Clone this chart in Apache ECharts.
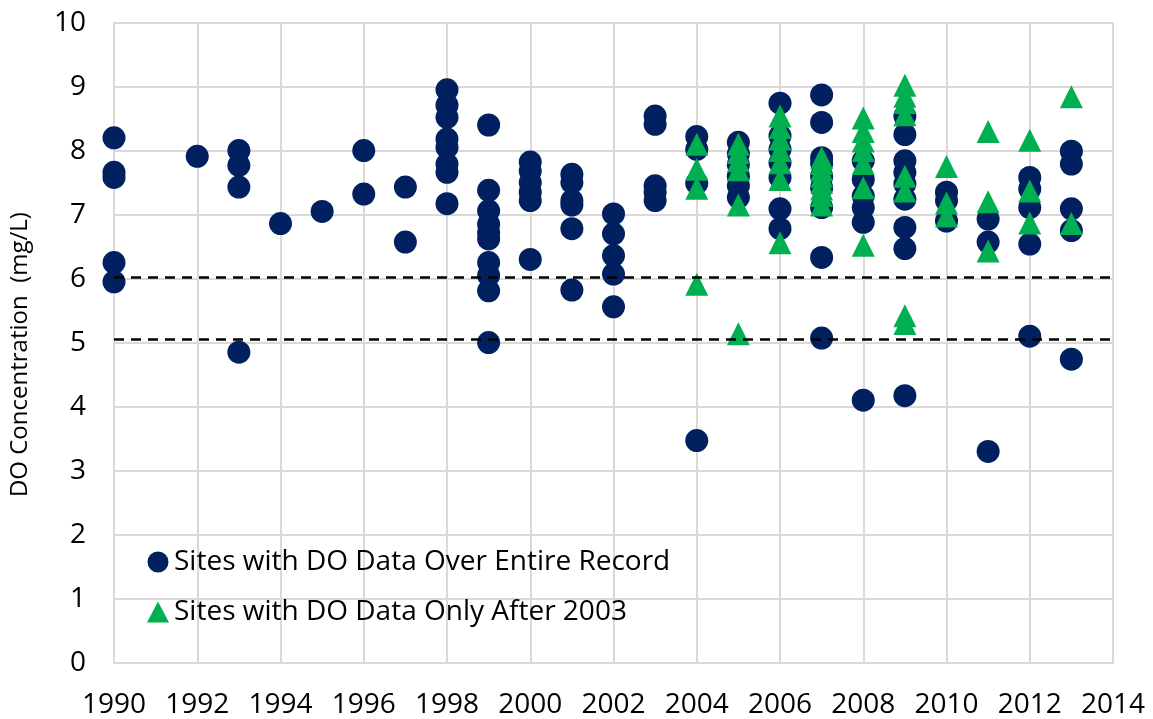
<!DOCTYPE html>
<html>
<head>
<meta charset="utf-8">
<script src="https://cdn.jsdelivr.net/npm/echarts@6/dist/echarts.min.js"></script>
<style>
  html, body { margin: 0; padding: 0; background: #fff; }
  #chart_box { width: 1153px; height: 719px; }
</style>
</head>
<body>
<div id="chart_box"></div>
<script>
// sites with DO data over the entire record: [year, mg/L]
var entireRecord = [
  [1990, 8.20], [1990, 7.66], [1990, 7.58], [1990, 6.25], [1990, 5.95],
  [1992, 7.91],
  [1993, 8.00], [1993, 7.77], [1993, 7.43], [1993, 4.85],
  [1994, 6.86],
  [1995, 7.05],
  [1996, 8.00], [1996, 7.32],
  [1997, 7.43], [1997, 6.57],
  [1998, 8.95], [1998, 8.71], [1998, 8.52], [1998, 8.18], [1998, 8.05], [1998, 7.79], [1998, 7.66], [1998, 7.17],
  [1999, 8.40], [1999, 7.38], [1999, 7.06], [1999, 6.85], [1999, 6.72], [1999, 6.62], [1999, 6.25], [1999, 6.05], [1999, 5.81], [1999, 5.00],
  [2000, 7.82], [2000, 7.68], [2000, 7.50], [2000, 7.35], [2000, 7.22], [2000, 6.30],
  [2001, 7.63], [2001, 7.50], [2001, 7.22], [2001, 7.15], [2001, 6.78], [2001, 5.82],
  [2002, 7.01], [2002, 6.70], [2002, 6.36], [2002, 6.07], [2002, 5.56],
  [2003, 8.54], [2003, 8.41], [2003, 7.45], [2003, 7.35], [2003, 7.22],
  [2004, 8.22], [2004, 8.02], [2004, 7.49], [2004, 3.47],
  [2005, 8.13], [2005, 7.95], [2005, 7.78], [2005, 7.60], [2005, 7.45], [2005, 7.27],
  [2006, 8.74], [2006, 8.23], [2006, 8.02], [2006, 7.81], [2006, 7.58], [2006, 7.09], [2006, 6.78],
  [2007, 8.87], [2007, 8.44], [2007, 7.89], [2007, 7.80], [2007, 7.60], [2007, 7.42], [2007, 7.11], [2007, 6.33], [2007, 5.07],
  [2008, 7.84], [2008, 7.55], [2008, 7.29], [2008, 7.11], [2008, 6.88], [2008, 4.10],
  [2009, 8.54], [2009, 8.25], [2009, 7.84], [2009, 7.66], [2009, 7.48], [2009, 7.24], [2009, 6.80], [2009, 6.47], [2009, 4.17],
  [2010, 7.35], [2010, 7.22], [2010, 6.90],
  [2011, 6.93], [2011, 6.57], [2011, 3.30],
  [2012, 7.58], [2012, 7.40], [2012, 7.11], [2012, 6.54], [2012, 5.10],
  [2013, 7.99], [2013, 7.79], [2013, 7.09], [2013, 6.75], [2013, 4.74]
];

// sites with DO data only after 2003
var after2003 = [
  [2004, 8.10], [2004, 7.71], [2004, 7.41], [2004, 5.91],
  [2005, 8.10], [2005, 7.97], [2005, 7.84], [2005, 7.70], [2005, 7.15], [2005, 5.14],
  [2006, 8.54], [2006, 8.36], [2006, 8.18], [2006, 8.00], [2006, 7.81], [2006, 7.55], [2006, 6.56],
  [2007, 7.89], [2007, 7.80], [2007, 7.70], [2007, 7.60], [2007, 7.50], [2007, 7.40], [2007, 7.30], [2007, 7.15],
  [2008, 8.51], [2008, 8.30], [2008, 8.15], [2008, 8.00], [2008, 7.80], [2008, 7.42], [2008, 6.52],
  [2009, 9.02], [2009, 8.85], [2009, 8.75], [2009, 8.56], [2009, 7.60], [2009, 7.37], [2009, 5.42], [2009, 5.30],
  [2010, 7.75], [2010, 7.18], [2010, 6.98],
  [2011, 8.30], [2011, 7.20], [2011, 6.43],
  [2012, 8.16], [2012, 7.37], [2012, 6.87],
  [2013, 8.84], [2013, 6.86]
];

// reference levels (dashed)
var refLevels = [6.02, 5.05];

var seriesNames = ['Sites with DO Data Over Entire Record', 'Sites with DO Data Only After 2003'];

var myChart = echarts.init(document.getElementById('chart_box'));
var fontName = '"Open Sans", sans-serif';

var option = {
  animation: false,
  backgroundColor: '#fff',
  grid: { left: 111, right: 40, top: 22.6, bottom: 56.4 },
  legend: {
    orient: 'vertical',
    left: 142,
    top: 543,
    itemWidth: 22,
    itemHeight: 21,
    itemGap: 22,
    textStyle: { fontFamily: fontName, fontSize: 28, color: '#000' },
    data: seriesNames
  },
  xAxis: {
    type: 'value',
    min: 1990,
    max: 2014,
    interval: 2,
    axisLine: { show: true, lineStyle: { color: '#d9d9d9', width: 2 } },
    axisTick: { show: false },
    splitLine: { show: true, lineStyle: { color: '#d9d9d9', width: 2 } },
    axisLabel: {
      margin: 28,
      fontFamily: fontName, fontSize: 28, color: '#000',
      formatter: function (v) { return String(v); }
    }
  },
  yAxis: {
    type: 'value',
    min: 0,
    max: 10,
    interval: 1,
    name: 'DO Concentration  (mg/L)',
    nameLocation: 'middle',
    nameGap: 82,
    nameTextStyle: { fontFamily: fontName, fontSize: 24, color: '#000', padding: [0, 24, 0, 0] },
    axisLine: { show: true, lineStyle: { color: '#d9d9d9', width: 2 } },
    axisTick: { show: false },
    splitLine: { show: true, lineStyle: { color: '#d9d9d9', width: 2 } },
    axisLabel: { margin: 28, fontFamily: fontName, fontSize: 28, color: '#000' }
  },
  series: [
    {
      name: seriesNames[0],
      type: 'scatter',
      symbol: 'circle',
      symbolSize: 23,
      itemStyle: { color: '#002060', opacity: 1 },
      data: entireRecord,
      z: 2
    },
    {
      name: seriesNames[1],
      type: 'scatter',
      symbol: 'triangle',
      symbolSize: [23, 23],
      itemStyle: { color: '#00b050', opacity: 1 },
      data: after2003,
      z: 3
    },
    {
      name: 'ref',
      type: 'scatter',
      data: [],
      z: 5,
      markLine: {
        silent: true,
        symbol: ['none', 'none'],
        label: { show: false },
        lineStyle: { color: '#000', width: 2.5, type: [10, 7] },
        data: refLevels.map(function (v) { return { yAxis: v }; })
      }
    }
  ]
};

myChart.setOption(option);
</script>
</body>
</html>
